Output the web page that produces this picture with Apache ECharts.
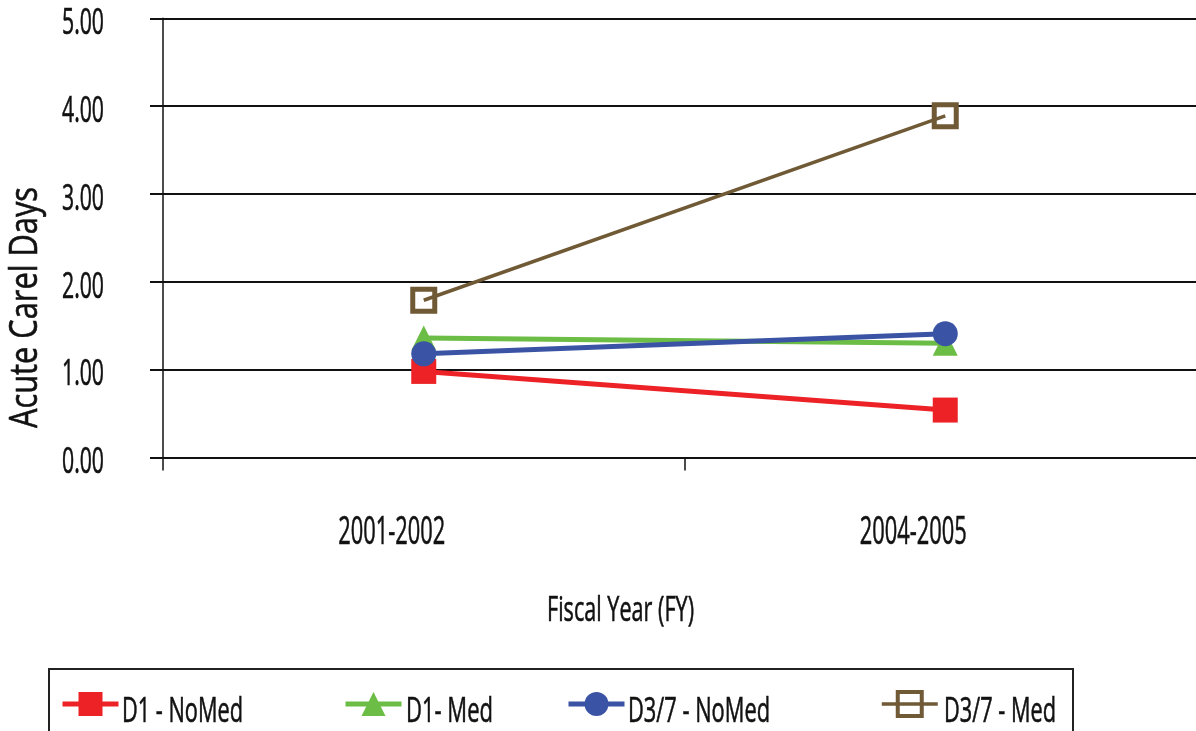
<!DOCTYPE html>
<html>
<head>
<meta charset="utf-8">
<title>Acute Care Days by Fiscal Year</title>
<script src="https://cdn.jsdelivr.net/npm/echarts@6/dist/echarts.min.js"></script>
<style>
  html, body { margin: 0; padding: 0; background: #fff; }
  #chart { width: 1196px; height: 731px; }
</style>
</head>
<body>
<div id="chart"></div>
<script>
// Fiscal years on the category axis
const categories = ['2001-2002', '2004-2005'];

// Average acute care days per group
const d1NoMed = [0.98, 0.54];
const d1Med = [1.36, 1.30];
const d37NoMed = [1.18, 1.41];
const d37Med = [1.79, 3.89];

// Value axis ticks
const yTicks = [0, 1, 2, 3, 4, 5];

// Series names as shown in the legend
const seriesNames = ['D1 - NoMed', 'D1- Med', 'D3/7 - NoMed', 'D3/7 - Med'];

const FONT = '"Open Sans", "DejaVu Sans", sans-serif';
const WEIGHT = 500;
const INK = '#111';
const COLORS = ['#ED2226', '#6BBD45', '#3A53A4', '#705A36'];

const chart = echarts.init(document.getElementById('chart'), null, { renderer: 'canvas' });

// Condensed lettering: text is drawn at full height and squeezed horizontally
// so that it spans the given width.
const measureCtx = document.createElement('canvas').getContext('2d');
function squeeze(text, size, width) {
  measureCtx.font = WEIGHT + ' ' + size + 'px ' + FONT;
  return width / measureCtx.measureText(text).width;
}
function label(text, x, y, size, width, align, extra) {
  return Object.assign({
    type: 'text',
    x: x, y: y,
    scaleX: squeeze(text, size, width),
    silent: true,
    style: {
      text: text,
      fontFamily: FONT, fontWeight: WEIGHT, fontSize: size, fill: INK,
      stroke: INK, lineWidth: 0.6,
      textAlign: align, textVerticalAlign: 'middle'
    }
  }, extra || {});
}

function lineSeries(i, data, symbol, size, extra) {
  return Object.assign({
    name: seriesNames[i],
    type: 'line',
    data: data,
    symbol: symbol,
    symbolSize: size,
    showSymbol: true,
    lineStyle: { color: COLORS[i], width: 5 },
    itemStyle: { color: COLORS[i] },
    emphasis: { disabled: true },
    animation: false
  }, extra || {});
}

// Legend keys only; the legend captions are drawn as condensed text below.
function legendAt(i, left, extra) {
  return Object.assign({
    left: left,
    top: 689,
    padding: 0,
    data: [seriesNames[i]],
    itemWidth: 56,
    itemHeight: 30,
    itemGap: 0,
    selectedMode: false,
    formatter: () => '',
    lineStyle: { width: 5 },
    itemStyle: { borderWidth: 0 },
    textStyle: { fontSize: 1 }
  }, extra || {});
}

const option = {
  backgroundColor: '#fff',
  animation: false,
  // The last category band runs slightly past the right edge of the canvas.
  grid: {
    left: 163, top: 18.3, width: 1043, height: 439.2,
    containLabel: false, outerBoundsMode: 'none'
  },
  xAxis: {
    type: 'category',
    data: categories,
    boundaryGap: true,
    axisLine: { show: true, lineStyle: { color: INK, width: 2 } },
    axisTick: { show: true, inside: false, length: 13, lineStyle: { color: INK, width: 1.5 } },
    axisLabel: { show: false },
    splitLine: { show: false }
  },
  yAxis: {
    type: 'value',
    min: yTicks[0],
    max: yTicks[yTicks.length - 1],
    interval: 1,
    axisLine: { show: true, lineStyle: { color: INK, width: 1.5 } },
    axisTick: { show: true, inside: false, length: 13, lineStyle: { color: INK, width: 2 } },
    axisLabel: { show: false },
    splitLine: { show: true, lineStyle: { color: INK, width: 2 } }
  },
  legend: [
    legendAt(0, 60),
    legendAt(1, 343),
    legendAt(2, 566),
    legendAt(3, 880, {
      lineStyle: { width: 3.5 },
      itemStyle: { color: 'rgba(255,255,255,0)', borderColor: COLORS[3], borderWidth: 4 }
    })
  ],
  series: [
    lineSeries(0, d1NoMed, 'rect', 25),
    lineSeries(1, d1Med, 'triangle', 25),
    lineSeries(2, d37NoMed, 'circle', 25),
    lineSeries(3, d37Med, 'rect', 22, {
      lineStyle: { color: COLORS[3], width: 3.5 },
      itemStyle: { color: 'rgba(255,255,255,0)', borderColor: COLORS[3], borderWidth: 5 }
    })
  ]
};

chart.setOption(option);

// Tick labels, axis titles, legend captions and the legend frame
const graphics = [];
yTicks.forEach(v => {
  const py = chart.convertToPixel({ yAxisIndex: 0 }, v);
  graphics.push(label(v.toFixed(2), 104, py + 5.5, 36, 42, 'right'));
});
categories.forEach(c => {
  const px = chart.convertToPixel({ xAxisIndex: 0 }, c);
  graphics.push(label(c, px - 32, 533, 38, 107, 'center'));
});
graphics.push(label('Acute Carel Days', 25.7, 307.5, 38, 241, 'center', { rotation: Math.PI / 2 }));
graphics.push(label('Fiscal Year (FY)', 620.5, 611, 35, 147, 'center'));

const captionX = [122, 406, 628, 944];
const captionW = [121, 87, 142, 112];
seriesNames.forEach((name, i) => {
  graphics.push(label(name, captionX[i], 712, 35, captionW[i], 'left'));
});
graphics.push({
  type: 'rect',
  silent: true,
  shape: { x: 49, y: 669, width: 1024, height: 80 },
  style: { fill: 'none', stroke: '#222', lineWidth: 2 },
  z: -1
});

chart.setOption({ graphic: graphics });
</script>
</body>
</html>
